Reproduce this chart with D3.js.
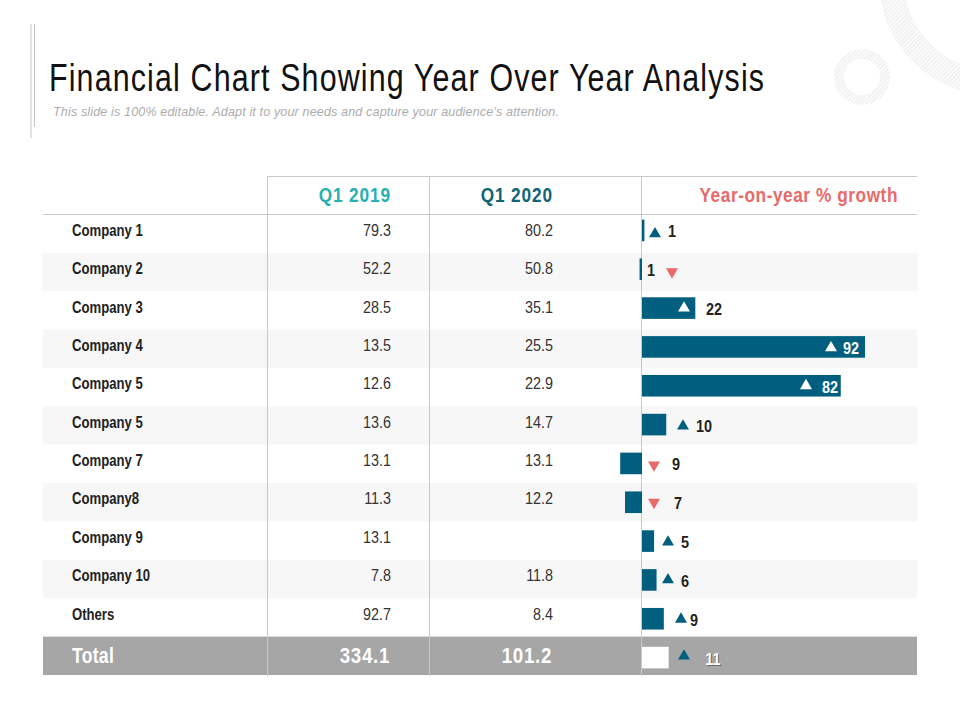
<!DOCTYPE html>
<html><head><meta charset="utf-8">
<script src="https://cdn.jsdelivr.net/npm/d3@7/dist/d3.min.js"></script>
<style>
html,body{margin:0;padding:0;background:#fff}
svg{display:block}
text{font-family:"Liberation Sans",Arial,sans-serif}
</style></head><body>
<svg id="c" width="960" height="720"></svg>
<script>
const titleText = "Financial Chart Showing Year Over Year Analysis";
const subtitleText = "This slide is 100% editable. Adapt it to your needs and capture your audience\u2019s attention.";
const headers = ["Q1 2019","Q1 2020","Year-on-year % growth"];
const companies = ["Company 1","Company 2","Company 3","Company 4","Company 5","Company 5","Company 7","Company8","Company 9","Company 10","Others","Total"];
const q2019 = ["79.3","52.2","28.5","13.5","12.6","13.6","13.1","11.3","13.1","7.8","92.7","334.1"];
const q2020 = ["80.2","50.8","35.1","25.5","22.9","14.7","13.1","12.2","","11.8","8.4","101.2"];
const growth = [1,-1,22,92,82,10,-9,-7,5,6,9,11];
const growthLabels = ["1","1","22","92","82","10","9","7","5","6","9","11"];
// annotation layout: distance from the zero line for arrow and number, arrow nudge
const arrowOffset = [13,30,42,189,164,41,12,12,26,26,39,42];
const labelOffset = [30,9,72,209,188,62,34,36,43,43,52,71];
const arrowNudge = [3.5,2.5,0,1,0,1.5,1.5,0,1,0,0.5,-1.5];

const TEAL="#005f7f", RED="#e86a6a", GREY="#a6a6a6", LINE="#c9c9c9", TXT="#222";
const svg=d3.select("#c");
const idx=d3.range(companies.length), last=idx.length-1;
const rowY=d3.scaleBand().domain(idx).range([214.4,675]);
const barY=d3.scaleBand().domain(idx).range([211,677]);
const xG=d3.scaleLinear().domain([0,92]).range([642,865]);
const lines=[267,429,641];
const narrow=(x,y,s=.82)=>`translate(${x},${y}) scale(${s},1)`;

// decoration
const defs=svg.append("defs");
const pat=defs.append("pattern").attr("id","hatch").attr("width",3).attr("height",3)
  .attr("patternUnits","userSpaceOnUse").attr("patternTransform","rotate(45)");
pat.append("rect").attr("width",1.7).attr("height",3).attr("fill","#efefef");
const ring=d3.arc();
svg.append("path").attr("transform","translate(862,77)").attr("fill","url(#hatch)")
  .attr("d",ring({innerRadius:18,outerRadius:28,startAngle:0,endAngle:2*Math.PI}));
svg.append("path").attr("transform","translate(995,-20)").attr("fill","url(#hatch)")
  .attr("d",ring({innerRadius:91,outerRadius:116,startAngle:0,endAngle:2*Math.PI}));
svg.append("line").attr("x1",31).attr("x2",31).attr("y1",24).attr("y2",138).attr("stroke","#c4c4c4");
svg.append("line").attr("x1",34.5).attr("x2",34.5).attr("y1",24).attr("y2",127).attr("stroke","#c4c4c4");

// title
svg.append("text").attr("transform",narrow(49,91,.8)).attr("font-size",38).attr("fill","#111")
  .attr("textLength",715/.8).attr("lengthAdjust","spacing").text(titleText);
svg.append("text").attr("x",53).attr("y",116).attr("font-size",12.6).attr("font-style","italic")
  .attr("fill","#adadad").attr("textLength",506).text(subtitleText);

// rows
svg.selectAll("rect.s").data(idx.filter(i=>i%2==1&&i<last)).join("rect").attr("class","s")
  .attr("x",43).attr("width",874).attr("y",i=>rowY(i)).attr("height",rowY.bandwidth()).attr("fill","#f7f7f7");
svg.append("rect").attr("x",43).attr("width",874).attr("y",rowY(last)).attr("height",rowY.bandwidth()).attr("fill",GREY);

// grid
svg.append("line").attr("x1",267).attr("x2",917).attr("y1",176.5).attr("y2",176.5).attr("stroke",LINE);
svg.append("line").attr("x1",43).attr("x2",917).attr("y1",214.5).attr("y2",214.5).attr("stroke",LINE);
svg.selectAll("line.v").data(lines).join("line").attr("class","v")
  .attr("x1",d=>d+.5).attr("x2",d=>d+.5).attr("y1",176).attr("y2",676).attr("stroke",LINE);

// headers
const hx=[391,553,898], hc=["#27b0b4","#0f6475",RED], hsp=[1.1,1.1,.7];
svg.selectAll("text.h").data(headers).join("text").attr("class","h")
  .attr("transform",(d,i)=>narrow(hx[i],202)).attr("text-anchor","end").attr("font-weight","bold")
  .attr("font-size",21).attr("letter-spacing",(d,i)=>hsp[i]).attr("fill",(d,i)=>hc[i]).text(d=>d);

// table text
const textY=i=> i===last ? rowY(i)+rowY.bandwidth()/2+7.5 : rowY(i)+rowY.bandwidth()/2+2.2;
svg.selectAll("text.n").data(idx).join("text").attr("class","n")
  .attr("transform",i=>narrow(72,textY(i))).attr("font-weight","bold")
  .attr("font-size",i=>i===last?21.5:16).attr("letter-spacing",i=>i===last?.3:0)
  .attr("fill",i=>i===last?"#fff":TXT).text(i=>companies[i]);
[[q2019,391],[q2020,553]].forEach(([arr,x])=>{
  svg.append("g").selectAll("text").data(idx).join("text")
    .attr("transform",i=>narrow(i===last?x-1:x,textY(i),.87)).attr("text-anchor","end")
    .attr("font-weight",i=>i===last?"bold":"normal")
    .attr("font-size",i=>i===last?21.5:16.5).attr("letter-spacing",i=>i===last?.8:0)
    .attr("fill",i=>i===last?"#fff":"#333").text(i=>arr[i]);
});

// bars
svg.selectAll("rect.b").data(idx).join("rect").attr("class","b")
  .attr("x",i=>Math.min(xG(0),xG(growth[i]))).attr("width",i=>Math.abs(xG(growth[i])-xG(0)))
  .attr("y",i=>barY(i)+barY.bandwidth()/2-10.8).attr("height",21.6)
  .attr("fill",i=>i===last?"#fff":TEAL);

// arrows
const tri=d3.symbol().type(d3.symbolTriangle).size(62);
svg.selectAll("path.t").data(idx).join("path").attr("class","t")
  .attr("transform",i=>`translate(${xG(0)+arrowOffset[i]},${barY(i)+barY.bandwidth()/2+arrowNudge[i]}) rotate(${growth[i]<0?180:0})`)
  .attr("d",tri())
  .attr("fill",i=> growth[i]<0?RED:(i>=2&&i<=4?"#fff":TEAL));

// growth labels
const lblWhite=i=>i===3||i===4||i===last;
const lblY=i=>barY(i)+barY.bandwidth()/2+7;
svg.selectAll("text.sh").data([last]).join("text").attr("class","sh")
  .attr("transform",i=>narrow(xG(0)+labelOffset[i]+1,lblY(i)+1,.85))
  .attr("text-anchor","middle").attr("font-weight","bold").attr("font-size",17).attr("fill","#666").text(i=>growthLabels[i]);
svg.selectAll("text.g").data(idx).join("text").attr("class","g")
  .attr("transform",i=>narrow(xG(0)+labelOffset[i],lblY(i),.85))
  .attr("text-anchor","middle").attr("font-weight","bold").attr("font-size",17)
  .attr("fill",i=>lblWhite(i)?"#fff":TXT).text(i=>growthLabels[i]);
</script>
</body></html>
